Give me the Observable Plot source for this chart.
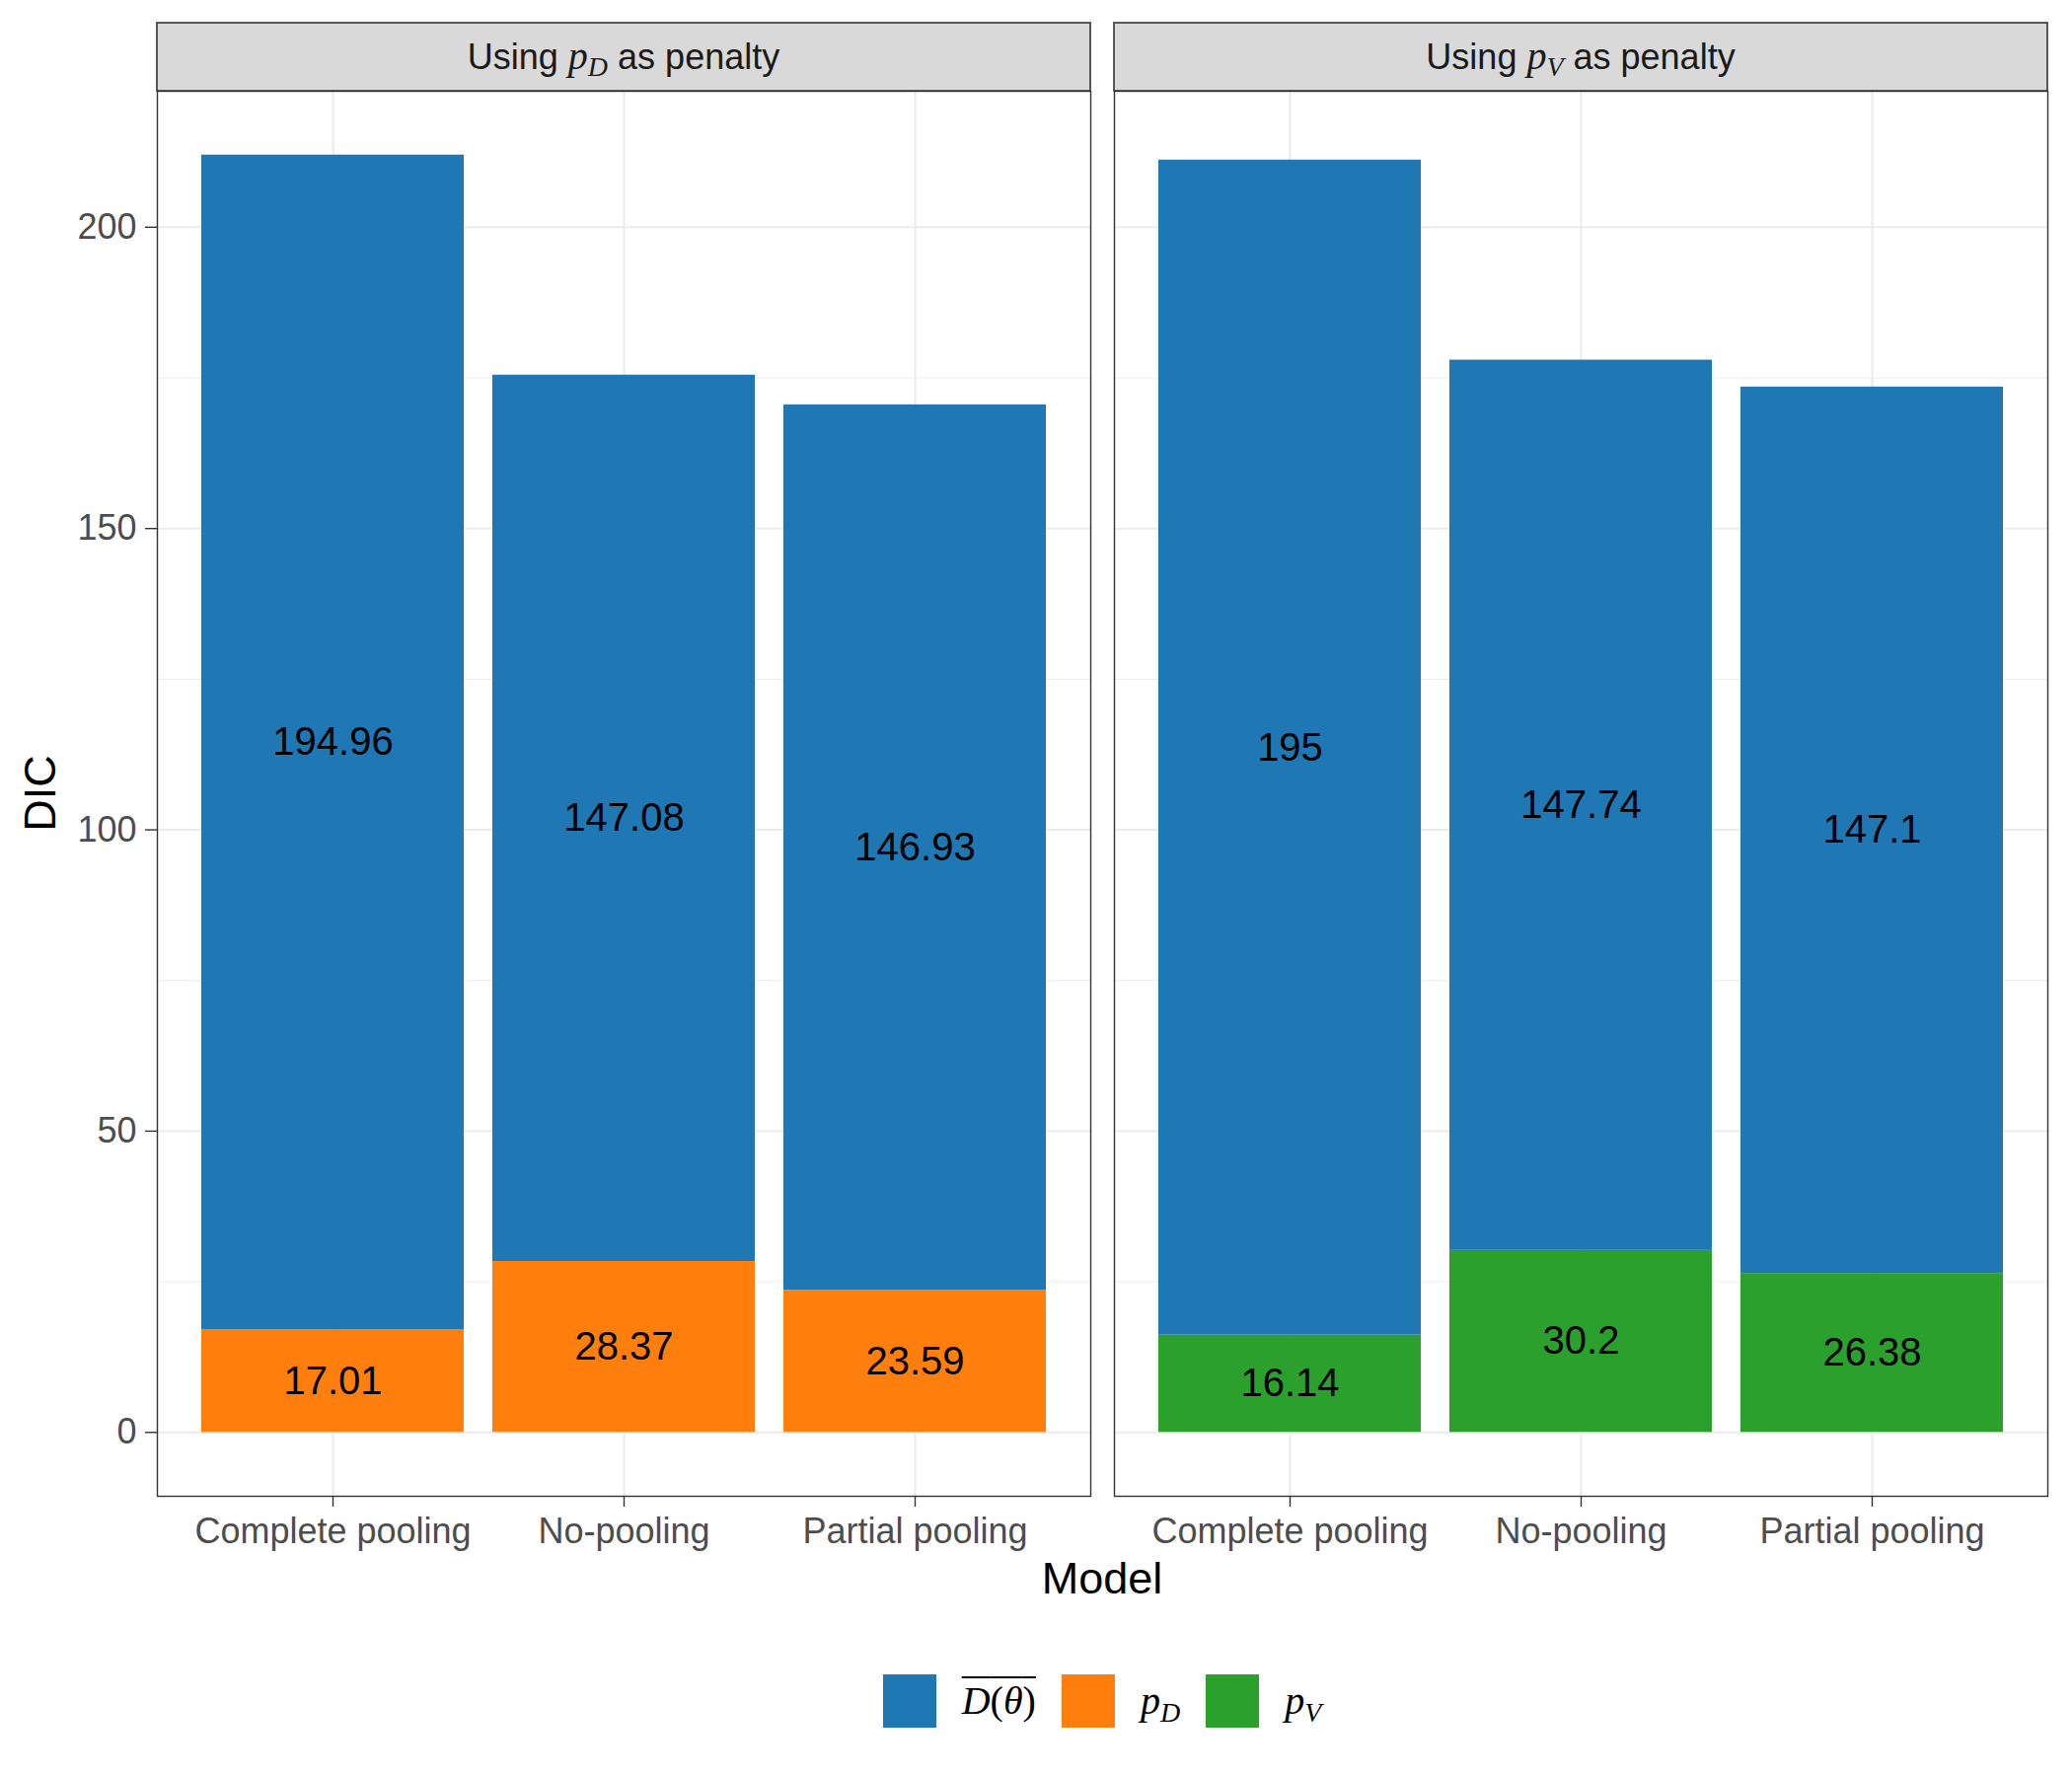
<!DOCTYPE html>
<html>
<head>
<meta charset="utf-8">
<script src="https://cdn.jsdelivr.net/npm/d3@7"></script>
<script src="https://cdn.jsdelivr.net/npm/@observablehq/plot@0.6"></script>
<style>
  html, body { margin: 0; padding: 0; background: #ffffff; }
  #chart svg { display: block; }
  #legend { display: flex; justify-content: center; align-items: center; box-sizing: border-box;
            width: 2100px; padding-left: 134px; margin-top: 57px; height: 54px; }
  .sw { width: 54px; height: 54px; flex: none; }
  .lab { font-family: "Liberation Serif", "DejaVu Serif", serif; font-style: italic; font-size: 40px;
         line-height: 1; color: #000; margin-left: 26px; margin-right: 26px; white-space: nowrap; }
  .lab sub { font-size: 28px; vertical-align: -8px; line-height: 0; }
  .ov { text-decoration: overline; text-decoration-thickness: 2px; }
  .up { font-style: normal; }
</style>
</head>
<body>
<div id="chart"></div>
<div id="legend"></div>
<script>
// ---- data ----
const panels = ["pD", "pV"];
const models = ["Complete pooling", "No-pooling", "Partial pooling"];
const components = ["Dbar", "pD", "pV"];
const componentColors = ["#1F77B4", "#FF7F0E", "#2CA02C"];
const dbarUsingPD = [194.96, 147.08, 146.93];
const penaltyPD = [17.01, 28.37, 23.59];
const dbarUsingPV = [195, 147.74, 147.1];
const penaltyPV = [16.14, 30.2, 26.38];
const yTicks = [0, 50, 100, 150, 200];
const yMinorTicks = [25, 75, 125, 175];

// ---- table (penalty first so it stacks at the bottom) ----
const rows = [];
models.forEach((m, i) => rows.push({panel: "pD", model: m, component: "pD", value: penaltyPD[i]}));
models.forEach((m, i) => rows.push({panel: "pV", model: m, component: "pV", value: penaltyPV[i]}));
models.forEach((m, i) => rows.push({panel: "pD", model: m, component: "Dbar", value: dbarUsingPD[i]}));
models.forEach((m, i) => rows.push({panel: "pV", model: m, component: "Dbar", value: dbarUsingPV[i]}));

const totals = models.flatMap((m, i) => [dbarUsingPD[i] + penaltyPD[i], dbarUsingPV[i] + penaltyPV[i]]);
const ymax = d3.max(totals);

const W = 2100, H = 1640;
const mTop = 92, mBottom = H - 1516, mLeft = 158, mRight = 24;
const stripH = 69;

const plot = Plot.plot({
  width: W,
  height: H,
  marginTop: mTop,
  marginBottom: mBottom,
  marginLeft: mLeft,
  marginRight: mRight,
  style: {fontFamily: "Liberation Sans, Arial, sans-serif", background: "#ffffff", overflow: "visible"},
  fx: {domain: panels, paddingInner: 0.0247, paddingOuter: 0, axis: null, label: null},
  x: {domain: models, paddingInner: 0.1, paddingOuter: 0.15, axis: null, label: null},
  y: {domain: [-0.05 * ymax, 1.05 * ymax], axis: null, label: null},
  color: {domain: components, range: componentColors},
  marks: [
    Plot.ruleY(yMinorTicks, {stroke: "#EBEBEB", strokeWidth: 1}),
    Plot.ruleY(yTicks, {stroke: "#EBEBEB", strokeWidth: 2}),
    Plot.ruleX(models, {x: d => d, stroke: "#EBEBEB", strokeWidth: 2}),
    Plot.barY(rows, {fx: "panel", x: "model", y: "value", fill: "component"}),
    Plot.text(rows, Plot.stackY({fx: "panel", x: "model", y: "value", text: d => String(d.value),
      fill: "#000000", fontSize: 40})),
    Plot.axisY(yTicks, {anchor: "left", tickSize: 12, tickPadding: 9, fontSize: 36,
      stroke: "#333333", fill: "#4D4D4D", strokeWidth: 1.4, label: null}),
    Plot.axisX({anchor: "bottom", tickSize: 11, tickPadding: 11, fontSize: 36,
      stroke: "#333333", fill: "#4D4D4D", strokeWidth: 1.4, label: null}),
    Plot.frame({stroke: "#333333", strokeWidth: 1.4})
  ]
});

document.getElementById("chart").appendChild(plot);

// ---- strips, axis titles (positions taken from the plot's own scales) ----
const svg = d3.select(plot.tagName.toLowerCase() === "svg" ? plot : plot.querySelector("svg"));
const fx = plot.scale("fx");
const bw = fx.bandwidth;
const stripInfo = {pD: "D", pV: "V"};
panels.forEach(p => {
  const x0 = fx.apply(p);
  const g = svg.append("g");
  g.append("rect")
    .attr("x", x0).attr("y", mTop - stripH).attr("width", bw).attr("height", stripH)
    .attr("fill", "#D9D9D9").attr("stroke", "#333333").attr("stroke-width", 1.6);
  const t = g.append("text")
    .attr("x", x0 + bw / 2).attr("y", mTop - stripH / 2 + 12.5)
    .attr("text-anchor", "middle")
    .attr("fill", "#1A1A1A")
    .style("font-family", "Liberation Sans, Arial, sans-serif")
    .style("font-size", "36px")
    .style("white-space", "pre");
  t.append("tspan").text("Using ");
  t.append("tspan").text("p")
    .style("font-family", "Liberation Serif, DejaVu Serif, serif").style("font-style", "italic").style("font-size", "40px");
  t.append("tspan").text(stripInfo[p]).attr("dy", 7)
    .style("font-family", "Liberation Serif, DejaVu Serif, serif").style("font-style", "italic").style("font-size", "28px");
  t.append("tspan").text(" as penalty").attr("dy", -7);
});

const fxRange = fx.range;
svg.append("text")
  .attr("x", (fxRange[0] + fxRange[1]) / 2).attr("y", 1615)
  .attr("text-anchor", "middle").attr("fill", "#000")
  .style("font-family", "Liberation Sans, Arial, sans-serif").style("font-size", "45px")
  .text("Model");
svg.append("text")
  .attr("transform", `translate(56, ${(mTop + (H - mBottom)) / 2}) rotate(-90)`)
  .attr("text-anchor", "middle").attr("fill", "#000")
  .style("font-family", "Liberation Sans, Arial, sans-serif").style("font-size", "45px")
  .text("DIC");

// ---- legend ----
const legend = document.getElementById("legend");
const legendLabels = {
  Dbar: '<span class="ov">D<span class="up">(</span>θ<span class="up">)</span></span>',
  pD: 'p<sub>D</sub>',
  pV: 'p<sub>V</sub>'
};
components.forEach((c, i) => {
  const sw = document.createElement("div");
  sw.className = "sw";
  sw.style.background = componentColors[i];
  legend.appendChild(sw);
  const lab = document.createElement("div");
  lab.className = "lab";
  if (i === components.length - 1) lab.style.marginRight = "0px";
  lab.innerHTML = legendLabels[c];
  legend.appendChild(lab);
});
</script>
</body>
</html>
